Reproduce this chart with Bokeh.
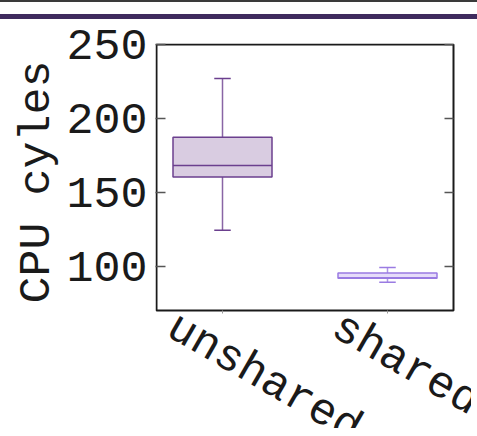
import math
from bokeh.plotting import figure
from bokeh.models import (Range1d, FixedTicker, LinearAxis, LabelSet,
                          ColumnDataSource, Div)
from bokeh.core.properties import value
from bokeh.layouts import column
from bokeh.embed import file_html
from bokeh.resources import INLINE

# ---- data ----
categories = ["unshared", "shared"]
positions = [1, 2]
lower_whisker = [124.3, 89.2]
q1 = [160.4, 91.9]
median = [168.2, 92.1]
q3 = [187.2, 95.3]
upper_whisker = [227.0, 99.1]
y_ticks = [100, 150, 200, 250]
y_label = "CPU cyles"
fill_colors = ["#d9cce1", "#e6dcfa"]
line_colors = ["#6b3f8e", "#9a7be2"]

# ---- layout / style constants ----
FONT = "Liberation Mono"
BOX_W = 0.6
CAP_W = 0.1
X_BOX_MIN, X_BOX_MAX = 0.6, 2.4      # visible plot box (data units)
Y_BOX_MIN, Y_BOX_MAX = 70, 250
BOX_W_PX, BOX_H_PX = 297, 266        # visible plot box (pixels)
FRAME_W, FRAME_H = 316, 385          # drawing area, extends past box so rotated labels show
PAD = 1                              # frame edge sits 1px outside the box on left/top
LABEL_SHIFT = 4                      # non-breaking spaces that lift the y title onto the box

sx = (X_BOX_MAX - X_BOX_MIN) / BOX_W_PX
sy = (Y_BOX_MAX - Y_BOX_MIN) / BOX_H_PX
x_start = X_BOX_MIN - PAD * sx
x_end = x_start + FRAME_W * sx
y_end = Y_BOX_MAX + PAD * sy
y_start = y_end - FRAME_H * sy

src = ColumnDataSource(dict(
    x=positions, lo=lower_whisker, q1=q1, med=median, q3=q3, hi=upper_whisker,
    left=[p - BOX_W / 2 for p in positions], right=[p + BOX_W / 2 for p in positions],
    cl=[p - CAP_W / 2 for p in positions], cr=[p + CAP_W / 2 for p in positions],
    fill=fill_colors, line=line_colors, name=categories,
))

p = figure(frame_width=FRAME_W, frame_height=FRAME_H, output_backend="svg",
           toolbar_location=None, x_axis_location="above",
           x_range=Range1d(x_start, x_end), y_range=Range1d(y_start, y_end),
           min_border_left=155, min_border_right=0, min_border_top=22,
           min_border_bottom=0)
p.grid.visible = False
p.outline_line_color = None
p.background_fill_color = "white"
p.border_fill_color = "white"

# plot box
p.quad(left=X_BOX_MIN, right=X_BOX_MAX, bottom=Y_BOX_MIN, top=Y_BOX_MAX,
       fill_color=None, line_color="#1a1a1a", line_width=2)

# whiskers
p.segment(x0="x", y0="q3", x1="x", y1="hi", line_color="line", line_width=1.5, line_alpha=0.8, source=src)
p.segment(x0="x", y0="lo", x1="x", y1="q1", line_color="line", line_width=1.5, line_alpha=0.8, source=src)
p.segment(x0="cl", y0="hi", x1="cr", y1="hi", line_color="line", line_width=1.5, source=src)
p.segment(x0="cl", y0="lo", x1="cr", y1="lo", line_color="line", line_width=1.5, source=src)
# boxes
p.quad(left="left", right="right", bottom="q1", top="q3", fill_color="fill",
       line_color="line", line_width=1.5, source=src)
p.segment(x0="left", y0="med", x1="right", y1="med", line_color="line", line_width=1.5, source=src)

# y axis
ya = p.yaxis[0]
ya.ticker = FixedTicker(ticks=y_ticks)
ya.bounds = (Y_BOX_MIN, Y_BOX_MAX)
ya.axis_line_color = None
ya.major_tick_in = 10
ya.major_tick_out = 0
ya.major_tick_line_color = "#555555"
ya.major_tick_line_width = 1.5
ya.minor_tick_line_color = None
ya.major_label_text_font = FONT
ya.major_label_text_font_size = "45px"
ya.major_label_text_color = "#1a1a1a"
ya.major_label_standoff = 8
ya.axis_label = "\u00a0" * LABEL_SHIFT + y_label
ya.axis_label_text_font = FONT
ya.axis_label_text_font_size = "45px"
ya.axis_label_text_font_style = "normal"
ya.axis_label_text_color = "#1a1a1a"
ya.axis_label_standoff = 0

# mirrored right ticks on the box's right edge
ra = LinearAxis(ticker=FixedTicker(ticks=y_ticks), fixed_location=X_BOX_MAX,
                bounds=(Y_BOX_MIN, Y_BOX_MAX), axis_line_color=None,
                major_tick_in=9, major_tick_out=0, major_tick_line_color="#555555",
                major_tick_line_width=1.5, minor_tick_line_color=None,
                major_label_text_font_size="1px", major_label_text_color=None,
                major_label_standoff=0)
p.add_layout(ra, "right")

# x axis ticks on the box's bottom edge (pointing down)
xa = p.xaxis[0]
xa.ticker = FixedTicker(ticks=positions)
xa.fixed_location = Y_BOX_MIN
xa.axis_line_color = None
xa.major_tick_in = 3
xa.major_tick_out = 0
xa.major_tick_line_color = "#999999"
xa.minor_tick_line_color = None
xa.major_label_text_font_size = "1px"
xa.major_label_text_color = None
xa.major_label_standoff = 0

labels = LabelSet(x="x", y=Y_BOX_MIN, text="name", source=src,
                  x_offset=-58, y_offset=-24, angle=-math.pi / 6, text_align="left",
                  text_baseline="alphabetic", text_font=value(FONT),
                  text_font_size="45px", text_color="#1a1a1a")
p.add_layout(labels)

top = Div(width=461, height=11,
          text='<div style="position:fixed;top:0;left:0;width:477px;height:2px;background:#3a3a3a"></div>'
               '<div style="position:fixed;top:14px;left:0;width:477px;height:4.5px;background:#3f2b5e"></div>')

layout = column(top, p)
open("out.html", "w").write(file_html(layout, INLINE))
